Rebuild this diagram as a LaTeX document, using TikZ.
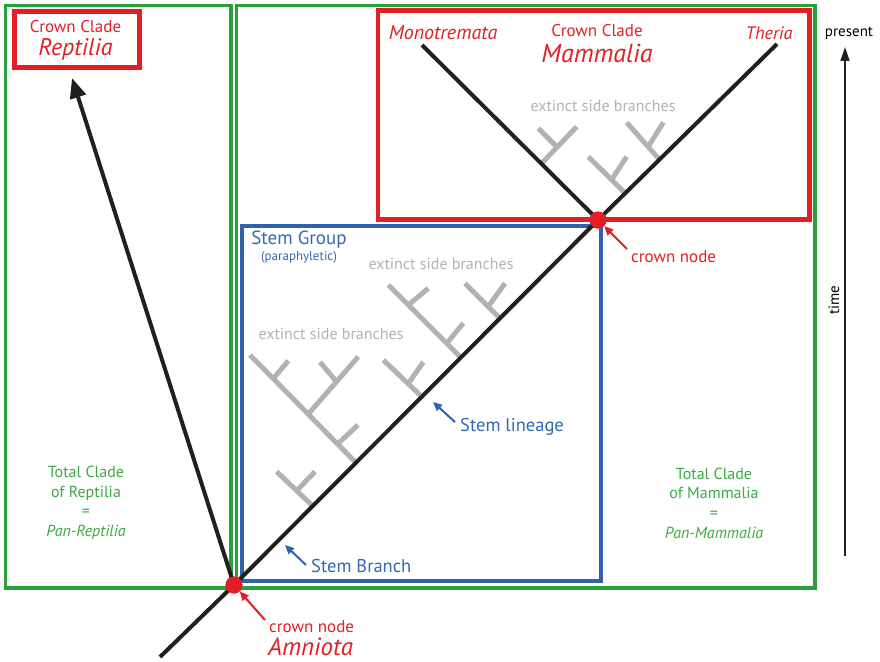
\documentclass[tikz,border=0pt]{standalone}
\usepackage{fontspec}
\setmainfont{PT Sans}
\usetikzlibrary{arrows.meta}
\definecolor{cred}{RGB}{227,30,36}
\definecolor{cgreen}{RGB}{40,160,60}
\definecolor{tgreen}{RGB}{60,170,65}
\definecolor{cblue}{RGB}{46,98,174}
\definecolor{tblue}{RGB}{50,104,180}
\definecolor{cgray}{RGB}{178,178,178}
\definecolor{cblack}{RGB}{35,31,32}
\begin{document}
\begin{tikzpicture}[x=1pt,y=-1pt,
  greenbox/.style={draw=cgreen,line width=3.2pt},
  redbox/.style={draw=cred,line width=4.5pt},
  bluebox/.style={draw=cblue,line width=4pt},
  lineage/.style={draw=cblack,line width=4pt},
  side/.style={draw=cgray,line width=5pt},
  cnode/.style={circle,fill=cred,minimum size=17pt,inner sep=0pt},
  txt/.style={inner sep=0pt,align=center},
  redtxt/.style={txt,text=cred},
  bluetxt/.style={txt,text=tblue},
  greentxt/.style={txt,text=tgreen},
  graytxt/.style={txt,text=cgray,font=\fontsize{16}{19}\selectfont},
  bluearrow/.style={draw=cblue,line width=2pt,-{Triangle[length=9pt,width=8pt]}},
  redarrow/.style={draw=cred,line width=2pt,-{Triangle[length=9pt,width=8pt]}}
]
\useasboundingbox (0,0) rectangle (880,661);
% green total clade boxes
\draw[greenbox] (5.5,5.5) rectangle (231,588);
\draw[greenbox] (236.5,5.5) rectangle (815,588);
% red crown clade boxes
\draw[redbox] (14.5,11.5) rectangle (139.5,67.5);
\draw[redbox] (378,10.5) rectangle (809.5,219.5);
% blue stem group box
\draw[bluebox] (242,226) rectangle (601,581);

% gray extinct side branches (stem group)
\draw[side] (311.7,505) -- (276.7,471.7) (296.7,490.5) -- (315,471.7);
\draw[side] (355,461.7) -- (250,355) (273.3,378.5) -- (288.3,360.7)
            (308.3,414) -- (358.3,356.7) (336.7,382) -- (320,362)
            (337,444.5) -- (358,425);
\draw[side] (420,395) -- (383.3,360) (408.3,383.5) -- (423.3,362);
\draw[side] (460,356.7) -- (388.3,285) (408.3,305) -- (428.3,288.3)
            (446.7,343.3) -- (463.3,323.3);
\draw[side] (500,318.3) -- (465,283.3) (488.3,306.5) -- (505,283.3);
% gray extinct side branches (crown group)
\draw[side] (541.7,163.3) -- (576.7,126.7) (557,147) -- (538.3,128.3);
\draw[side] (625,193) -- (588.3,156.7) (611.7,179.5) -- (626.7,156.7);
\draw[side] (659,159) -- (626.7,122.5) (648.3,146.5) -- (663.3,122.5);

% nodes
\coordinate (base) at (160,657);
\coordinate (theria) at (777,44);
\coordinate (mono) at (422,45);
\coordinate (reptip) at (72,78);
\node[cnode] (amn) at (234,585) {};
\node[cnode] (cm) at (598,220) {};

% lineages
\draw[lineage] (base) -- (amn.center) -- (cm.center) -- (theria);
\draw[lineage] (cm.center) -- (mono);
\draw[lineage,-{Triangle[length=20pt,width=16pt]}] (amn.center) -- (reptip);
\node[cnode] at (amn) {};
\node[cnode] at (cm) {};

% labels: Reptilia
\node[redtxt,font=\fontsize{17}{20}\selectfont] (ccr) at (75.5,27) {Crown Clade};
\node[redtxt,font=\fontsize{24}{28}\selectfont\itshape] (rep) at (75.5,49) {Reptilia};
% labels: Mammalia
\node[redtxt,font=\fontsize{20}{24}\selectfont\itshape] (monol) at (443,33) {Monotremata};
\node[redtxt,font=\fontsize{17}{20}\selectfont] (ccm) at (597,31) {Crown Clade};
\node[redtxt,font=\fontsize{26}{30}\selectfont\itshape] (mam) at (597,53) {Mammalia};
\node[redtxt,font=\fontsize{18}{21}\selectfont\itshape] (ther) at (769,33) {Theria};
\node[graytxt] (es1) at (603,106) {extinct side branches};
% stem group
\node[bluetxt,font=\fontsize{19}{22}\selectfont] (sg) at (299,240) {Stem Group};
\node[bluetxt,font=\fontsize{13}{15}\selectfont] (para) at (299,257) {(paraphyletic)};
\node[graytxt] (es2) at (441,264) {extinct side branches};
\node[graytxt] (es3) at (331,334) {extinct side branches};
\node[bluetxt,font=\fontsize{18.5}{22}\selectfont,anchor=west] (sl) at (460,427) {Stem lineage};
\node[bluetxt,font=\fontsize{18.5}{22}\selectfont,anchor=west] (sb) at (311,566) {Stem Branch};
\coordinate (sltip) at (433,402);
\coordinate (sbtip) at (285,545);
\draw[bluearrow] (455,422) -- (sltip);
\draw[bluearrow] (306,565) -- (sbtip);
% crown node labels
\node[redtxt,font=\fontsize{17}{20}\selectfont,anchor=west] (cn1) at (269,627) {crown node};
\node[redtxt,font=\fontsize{25}{29}\selectfont\itshape,anchor=west] (amnl) at (268,647) {Amniota};
\draw[redarrow] (265,620) -- (amn);
\node[redtxt,font=\fontsize{17}{20}\selectfont,anchor=west] (cn2) at (631,257) {crown node};
\draw[redarrow] (627,249) -- (cm);
% total clades
\node[greentxt,font=\fontsize{16}{19.7}\selectfont] (tcr) at (86,503) {Total Clade\\of Reptilia\\=\\\textit{Pan-Reptilia}};
\node[greentxt,font=\fontsize{16}{19.7}\selectfont] (tcm) at (714,503) {Total Clade\\of Mammalia\\=\\\textit{Pan-Mammalia}};
% time axis
\node[txt,font=\fontsize{15}{18}\selectfont] (pres) at (849,33) {present};
\coordinate (tbot) at (845,556);
\draw[cblack,line width=1.5pt,-{Triangle[length=14pt,width=9pt]}] (tbot) -- (845,47);
\node[txt,font=\fontsize{15}{17}\selectfont,rotate=90] (time) at (834,300) {time};
\end{tikzpicture}
\end{document}
